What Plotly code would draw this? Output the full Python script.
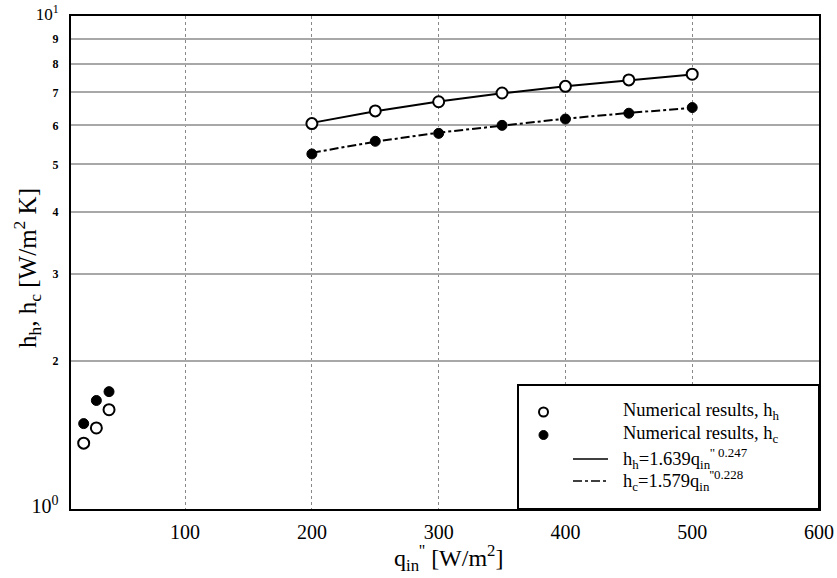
import plotly.graph_objects as go

# Heat flux at the inner wall [W/m^2]
q_low = [20, 30, 40]
q_high = [200, 250, 300, 350, 400, 450, 500]

# Numerical heat transfer coefficients [W/m^2 K]
hh_low = [1.36, 1.46, 1.59]
hc_low = [1.49, 1.66, 1.73]
hh_high = [6.05, 6.42, 6.70, 6.98, 7.20, 7.42, 7.62]
hc_high = [5.25, 5.57, 5.78, 6.00, 6.18, 6.35, 6.52]

# Correlation curves evaluated over the high-flux range
hh_fit = [6.07, 6.41, 6.71, 6.97, 7.20, 7.41, 7.61]
hc_fit = [5.28, 5.56, 5.80, 6.00, 6.19, 6.36, 6.51]

x_ticks = [100, 200, 300, 400, 500, 600]
y_ticks = [1, 2, 3, 4, 5, 6, 7, 8, 9, 10]
y_ticklabels = ['<span style="font-size:20px">10<sup>0</sup></span>', "<b>2</b>", "<b>3</b>", "<b>4</b>",
                "<b>5</b>", "<b>6</b>", "<b>7</b>", "<b>8</b>", "<b>9</b>",
                '<span style="font-size:17px">10<sup>1</sup></span>']

SERIF = "Liberation Serif"

fig = go.Figure()

fig.add_trace(go.Scatter(x=q_high, y=hh_fit, mode="lines",
                         line=dict(color="black", width=2), showlegend=False))
fig.add_trace(go.Scatter(x=q_high, y=hc_fit, mode="lines",
                         line=dict(color="black", width=2, dash="dashdot"), showlegend=False))

open_marker = dict(symbol="circle", size=11, color="white", line=dict(color="black", width=2))
fill_marker = dict(symbol="circle", size=10, color="black", line=dict(color="black", width=1))

fig.add_trace(go.Scatter(x=q_low + q_high, y=hh_low + hh_high, mode="markers",
                         marker=open_marker, showlegend=False))
fig.add_trace(go.Scatter(x=q_low + q_high, y=hc_low + hc_high, mode="markers",
                         marker=fill_marker, showlegend=False))

# Hand-built legend box in the lower right corner
L, R, T, B = 71, 819, 16, 509
W, H = R - L, B - T


def px(x):
    return (x - L) / W


def py(y):
    return (B - y) / H


shapes = [
    dict(type="rect", xref="paper", yref="paper", x0=px(518), x1=1, y0=0, y1=py(385),
         line=dict(color="black", width=2), fillcolor="white", layer="above"),
    dict(type="circle", xref="paper", yref="paper", x0=px(539), x1=px(548), y0=py(416.5), y1=py(407.5),
         line=dict(color="black", width=2), fillcolor="white", layer="above"),
    dict(type="circle", xref="paper", yref="paper", x0=px(539), x1=px(548), y0=py(439.5), y1=py(430.5),
         line=dict(color="black", width=1), fillcolor="black", layer="above"),
    dict(type="line", xref="paper", yref="paper", x0=px(573), x1=px(608), y0=py(459), y1=py(459),
         line=dict(color="black", width=1.5), layer="above"),
    dict(type="line", xref="paper", yref="paper", x0=px(573), x1=px(608), y0=py(481), y1=py(481),
         line=dict(color="black", width=1.5, dash="dashdot"), layer="above"),
]

legend_rows = [
    (411, "Numerical results, h<sub>h</sub>"),
    (434, "Numerical results, h<sub>c</sub>"),
    (458, "h<sub>h</sub>=1.639q<sub>in</sub><sup>'' 0.247</sup>"),
    (480, "h<sub>c</sub>=1.579q<sub>in</sub><sup>''0.228</sup>"),
]
annotations = [
    dict(xref="paper", yref="paper", x=px(621), y=py(yy), xanchor="left", yanchor="middle",
         text=t, showarrow=False, font=dict(family=SERIF, size=18.5, color="black"))
    for yy, t in legend_rows
]

annotations.append(dict(xref="paper", yref="paper", x=px(27), y=py(268), textangle=-90,
                        text="h<sub>h</sub>, h<sub>c</sub> [W/m<sup>2</sup> K]",
                        showarrow=False, font=dict(family=SERIF, size=25, color="black"),
                        xanchor="center", yanchor="middle"))
annotations.append(dict(xref="paper", yref="paper", x=px(449), y=py(558),
                        text="q<sub>in</sub><sup>''</sup> [W/m<sup>2</sup>]",
                        showarrow=False, font=dict(family=SERIF, size=24, color="black"),
                        xanchor="center", yanchor="middle"))

fig.update_layout(
    width=837, height=578,
    margin=dict(l=L, r=837 - R, t=T, b=578 - B, autoexpand=False),
    paper_bgcolor="white", plot_bgcolor="white",
    font=dict(family=SERIF, color="black"),
    shapes=shapes, annotations=annotations,
    showlegend=False,
)

fig.update_xaxes(
    range=[10, 600], tickvals=x_ticks, ticktext=[str(v) for v in x_ticks],
    tickfont=dict(family=SERIF, size=20), ticks="", ticklabelstandoff=4,
    automargin=False,
    showgrid=True, gridcolor="#888888", gridwidth=1, griddash="dot",
    showline=True, linecolor="black", linewidth=2, mirror=True, zeroline=False,
)
fig.update_yaxes(
    type="log", range=[0, 1], tickvals=y_ticks, ticktext=y_ticklabels,
    tickfont=dict(family=SERIF, size=12), ticks="", ticklabelstandoff=8,
    ticklabeloverflow="allow", automargin=False,
    showgrid=True, gridcolor="#a8a8a8", gridwidth=2,
    showline=True, linecolor="black", linewidth=2, mirror=True, zeroline=False,
)

fig.write_html("out.html")
